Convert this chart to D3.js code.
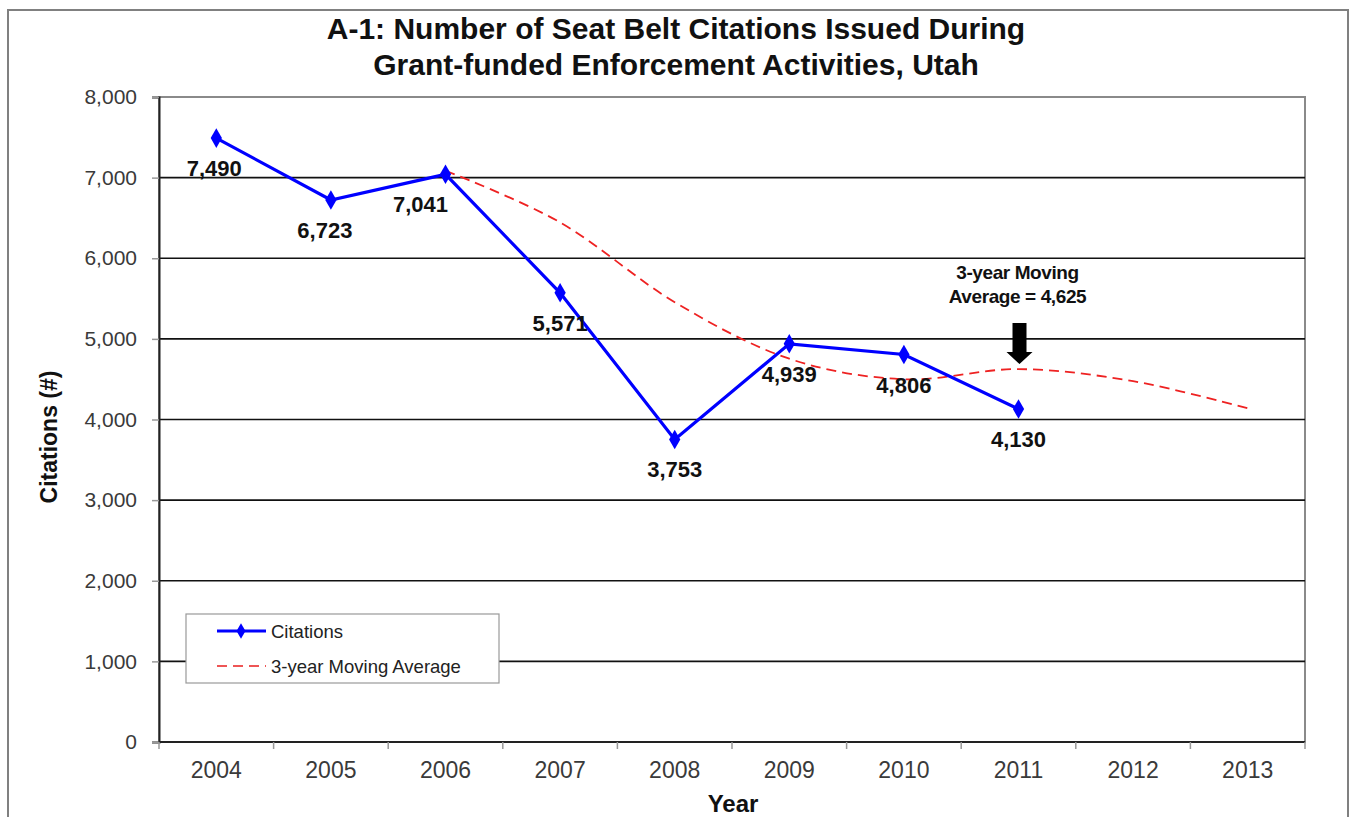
<!DOCTYPE html>
<html>
<head>
<meta charset="utf-8">
<script src="https://cdn.jsdelivr.net/npm/d3@7"></script>
<style>
  html, body { margin: 0; padding: 0; background: #fff; }
  svg { display: block; font-family: "Liberation Sans", Arial, sans-serif; }
</style>
</head>
<body>
<svg id="chart" width="1351" height="817"></svg>
<script>
// ---- data ----
const years = ["2004","2005","2006","2007","2008","2009","2010","2011","2012","2013"];
const citations = [7490, 6723, 7041, 5571, 3753, 4939, 4806, 4130];
const movingAvgYears = ["2006","2007","2008","2009","2010","2011","2012","2013"];
const movingAvg = [7085, 6445, 5455, 4754, 4499, 4625, 4475, 4140];
const yTicks = [0, 1000, 2000, 3000, 4000, 5000, 6000, 7000, 8000];
const titleLines = ["A-1: Number of Seat Belt Citations Issued During", "Grant-funded Enforcement Activities, Utah"];
const annotationLines = ["3-year Moving", "Average = 4,625"];
const annotationYear = "2011";
const legendLabels = ["Citations", "3-year Moving Average"];

// label horizontal nudges (px), presentation only
const labelNudge = [-2, -6, -25, 0, 0, 0, 0, 0];

const svg = d3.select("#chart");
const m = { left: 159, right: 1305, top: 97, bottom: 742 };

// outer frame
svg.append("rect").attr("x", 8).attr("y", 10).attr("width", 1340).attr("height", 830)
  .attr("fill", "none").attr("stroke", "#808080").attr("stroke-width", 2);

const x = d3.scaleBand().domain(years).range([m.left, m.right]).padding(0);
const y = d3.scaleLinear().domain([0, 8000]).range([m.bottom, m.top]);

// plot area border (grey)
svg.append("rect").attr("x", m.left).attr("y", m.top)
  .attr("width", m.right - m.left).attr("height", m.bottom - m.top)
  .attr("fill", "none").attr("stroke", "#8a8a8a").attr("stroke-width", 2);

// gridlines
svg.append("g").selectAll("line").data(yTicks.filter(d => d > 0 && d < 8000)).join("line")
  .attr("x1", m.left).attr("x2", m.right)
  .attr("y1", d => y(d)).attr("y2", d => y(d))
  .attr("stroke", "#111").attr("stroke-width", 1.6);

// y axis
const yAxis = svg.append("g").attr("transform", `translate(${m.left},0)`)
  .call(d3.axisLeft(y).tickValues(yTicks).tickSize(7).tickPadding(15).tickFormat(d3.format(",")));
yAxis.select(".domain").attr("stroke", "#222").attr("stroke-width", 2);
yAxis.selectAll(".tick line").attr("stroke", "#999").attr("stroke-width", 1.5);
yAxis.selectAll(".tick text").attr("font-size", 21).attr("fill", "#3a3a3a")
  .attr("font-family", "'Liberation Sans', Arial, sans-serif");

// x axis
const xAxis = svg.append("g").attr("transform", `translate(0,${m.bottom})`)
  .call(d3.axisBottom(x).tickSize(0).tickPadding(20));
xAxis.select(".domain").remove();
xAxis.selectAll(".tick text").attr("font-size", 23).attr("fill", "#3a3a3a")
  .attr("font-family", "'Liberation Sans', Arial, sans-serif");
svg.append("line").attr("x1", m.left).attr("x2", m.right).attr("y1", m.bottom).attr("y2", m.bottom)
  .attr("stroke", "#222").attr("stroke-width", 2);
// category boundary ticks
svg.append("g").selectAll("line").data(years.concat(["end"])).join("line")
  .attr("x1", (d, i) => m.left + i * x.step()).attr("x2", (d, i) => m.left + i * x.step())
  .attr("y1", m.bottom).attr("y2", m.bottom + 7)
  .attr("stroke", "#999").attr("stroke-width", 1.5);

// moving average (smoothed dashed red)
const maData = movingAvgYears.map((yr, i) => ({ yr, v: movingAvg[i] }));
const maLine = d3.line().x(d => x(d.yr) + x.bandwidth() / 2).y(d => y(d.v))
  .curve(d3.curveCatmullRom.alpha(0));
svg.append("path").datum(maData).attr("d", maLine)
  .attr("fill", "none").attr("stroke", "#ee2222").attr("stroke-width", 1.8)
  .attr("stroke-dasharray", "10,6");

// citations line
const cData = citations.map((v, i) => ({ yr: years[i], v }));
const cLine = d3.line().x(d => x(d.yr) + x.bandwidth() / 2).y(d => y(d.v));
svg.append("path").datum(cData).attr("d", cLine)
  .attr("fill", "none").attr("stroke", "#0000ff").attr("stroke-width", 3.2);
const diamond = d3.symbol().type(d3.symbolDiamond).size(110);
svg.append("g").selectAll("path").data(cData).join("path")
  .attr("d", diamond)
  .attr("transform", d => `translate(${x(d.yr) + x.bandwidth() / 2},${y(d.v)})`)
  .attr("fill", "#0000ff");

// data labels
svg.append("g").selectAll("text").data(cData).join("text")
  .attr("x", (d, i) => x(d.yr) + x.bandwidth() / 2 + labelNudge[i])
  .attr("y", d => y(d.v) + 38)
  .attr("text-anchor", "middle")
  .attr("font-size", 22).attr("font-weight", "bold").attr("fill", "#111")
  .text(d => d3.format(",")(d.v));

// title
svg.append("g").selectAll("text").data(titleLines).join("text")
  .attr("x", 676).attr("y", (d, i) => 39 + i * 36)
  .attr("text-anchor", "middle")
  .attr("font-size", 30).attr("font-weight", "bold").attr("fill", "#111")
  .text(d => d);

// axis titles
svg.append("text").attr("transform", `translate(57,437) rotate(-90)`)
  .attr("text-anchor", "middle").attr("font-size", 23).attr("font-weight", "bold").attr("fill", "#111")
  .text("Citations (#)");
svg.append("text").attr("x", 733).attr("y", 812)
  .attr("text-anchor", "middle").attr("font-size", 24).attr("font-weight", "bold").attr("fill", "#111")
  .text("Year");

// annotation
const ax = x(annotationYear) + x.bandwidth() / 2 + 1;
svg.append("g").selectAll("text").data(annotationLines).join("text")
  .attr("x", ax - 2).attr("y", (d, i) => 279 + i * 24)
  .attr("text-anchor", "middle").attr("font-size", 19).attr("font-weight", "bold").attr("fill", "#111")
  .attr("letter-spacing", -0.4)
  .text(d => d);
const tipY = y(movingAvg[movingAvgYears.indexOf(annotationYear)]) - 5;
svg.append("path")
  .attr("d", `M${ax - 7},${tipY - 41} L${ax + 7},${tipY - 41} L${ax + 7},${tipY - 12} L${ax + 13},${tipY - 12} L${ax},${tipY} L${ax - 13},${tipY - 12} L${ax - 7},${tipY - 12} Z`)
  .attr("fill", "#000");

// legend
const lg = svg.append("g").attr("transform", "translate(186,614)");
lg.append("rect").attr("width", 313).attr("height", 69)
  .attr("fill", "#fff").attr("stroke", "#999").attr("stroke-width", 1.2);
lg.append("line").attr("x1", 31).attr("x2", 80).attr("y1", 17).attr("y2", 17)
  .attr("stroke", "#0000ff").attr("stroke-width", 3);
lg.append("path").attr("d", d3.symbol().type(d3.symbolDiamond).size(70))
  .attr("transform", "translate(55,17)").attr("fill", "#0000ff");
lg.append("line").attr("x1", 31).attr("x2", 80).attr("y1", 52).attr("y2", 52)
  .attr("stroke", "#ee5555").attr("stroke-width", 1.8).attr("stroke-dasharray", "10,6");
lg.selectAll("text.lab").data(legendLabels).join("text").attr("class", "lab")
  .attr("x", 85).attr("y", (d, i) => 24 + i * 35)
  .attr("font-size", 18.5).attr("fill", "#222")
  .text(d => d);
</script>
</body>
</html>
